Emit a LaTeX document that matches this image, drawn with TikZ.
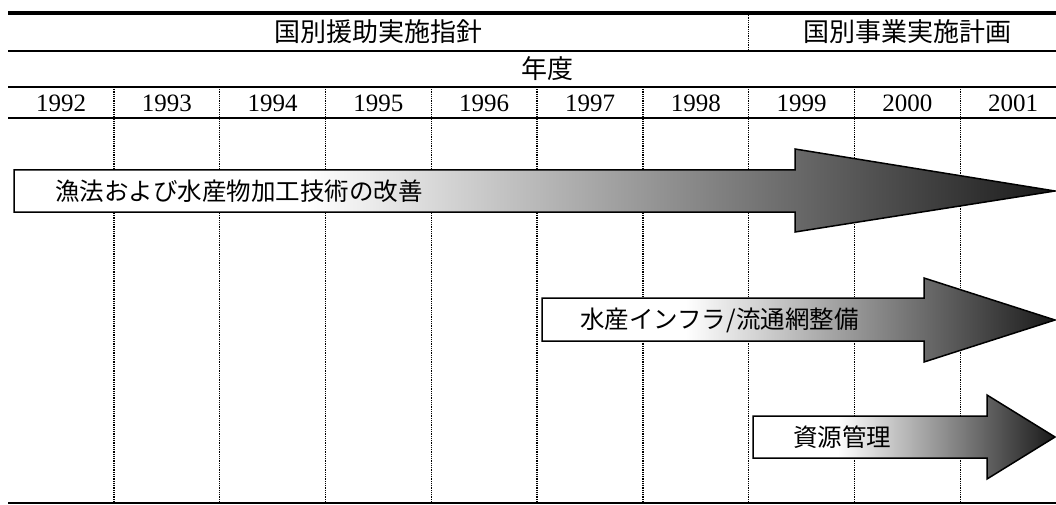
\documentclass[tikz,border=0pt]{standalone}
\usepackage{fontspec}
\setmainfont{Liberation Serif}
\newfontfamily\jp{Noto Sans CJK JP}
\pgfdeclarehorizontalshading{arrowshade}{100bp}{color(0bp)=(white); color(25bp)=(white); color(39bp)=(white); color(75bp)=(black!90); color(100bp)=(black!90)}
\tikzset{
  rule/.style={line width=2.2pt},
  thickrule/.style={line width=4pt},
  grid/.style={line width=1.4pt, dash pattern=on 1pt off 0.8pt},
  yeartxt/.style={font=\fontsize{25}{25}\selectfont, inner sep=0pt},
  headtxt/.style={font=\jp\fontsize{26}{26}\selectfont, inner sep=0pt},
  arrowbody/.style={draw=black, line width=1.5pt, shading=arrowshade, line join=miter},
  arrowtxt/.style={font=\jp\fontsize{24.5}{24.5}\selectfont, inner sep=0pt, anchor=west}
}
\begin{document}
\begin{tikzpicture}[x=1pt,y=-1pt]
\useasboundingbox (0,0) rectangle (1056,505);
% grid lines
\foreach \i in {1,...,9} {
  \draw[grid] ({8+105.8*\i},87) -- ({8+105.8*\i},503);
}
\draw[grid] (748.6,13) -- (748.6,51);
% arrows
\path[arrowbody] (14,170) -- (795,170) -- (795,149) -- (1055,191) -- (795,232) -- (795,212) -- (14,212) -- cycle;
\path[arrowbody] (542,298) -- (924,298) -- (924,278) -- (1055,320) -- (924,362) -- (924,341) -- (542,341) -- cycle;
\path[arrowbody] (753,416) -- (987,416) -- (987,395) -- (1055,437) -- (987,479) -- (987,458) -- (753,458) -- cycle;
% horizontal rules
\draw[thickrule] (8,13) -- (1056,13);
\draw[rule] (8,51) -- (1056,51);
\draw[rule] (8,87) -- (1056,87);
\draw[rule] (8,118) -- (1056,118);
\draw[line width=1.5pt] (8,503) -- (1056,503);
% header texts
\node[headtxt] (h1) at (378,32) {国別援助実施指針};
\node[headtxt] (h2) at (907,32) {国別事業実施計画};
\node[headtxt] (nd) at (547,69) {年度};
% years
\foreach \y [count=\k from 0] in {1992,1993,1994,1995,1996,1997,1998,1999,2000,2001} {
  \node[yeartxt] (y\y) at ({61+105.8*\k},103) {\y};
}
% arrow labels
\node[arrowtxt] (a1) at (55,191) {漁法および水産物加工技術の改善};
\node[arrowtxt] (a2) at (580,320) {水産インフラ/流通網整備};
\node[arrowtxt] (a3) at (793,437) {資源管理};
\end{tikzpicture}
\end{document}
